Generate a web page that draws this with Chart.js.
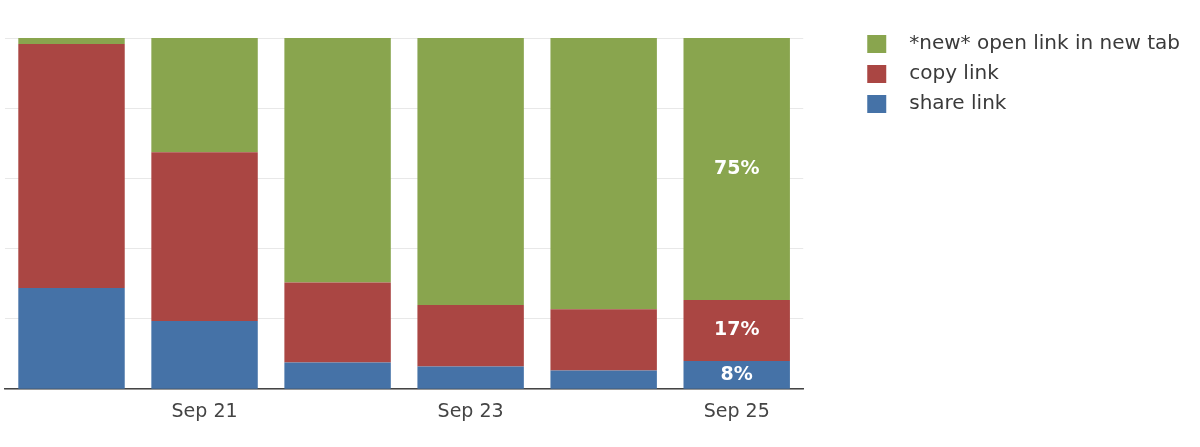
<!DOCTYPE html>
<html>
<head>
<meta charset="utf-8">
<script src="https://cdn.jsdelivr.net/npm/chart.js@4"></script>
<style>
    body { margin: 0; background: #fff; }
    canvas { display: block; }
</style>
</head>
<body>
<canvas id="myChart" width="1200" height="447"></canvas>
<script>
    const categories = ['Sep 20', 'Sep 21', 'Sep 22', 'Sep 23', 'Sep 24', 'Sep 25'];
    const shownTicks = ['Sep 21', 'Sep 23', 'Sep 25'];
    const labelledDay = 'Sep 25';

    // percent of clicks per day
    const shareLink = [28.8, 19.4, 7.6, 6.5, 5.3, 8.0];
    const copyLink = [69.5, 48.1, 22.8, 17.5, 17.5, 17.4];
    const openNewTab = [1.7, 32.5, 69.6, 76.0, 77.2, 74.6];

    const seriesNames = ['share link', 'copy link', '*new* open link in new tab'];
    const seriesColors = ['#4572A7', '#AA4643', '#89A54E'];

    // legend swatch: transparent space on the left, square on the right
    function swatch(color) {
        const c = document.createElement('canvas');
        c.width = 86;
        c.height = 18;
        const g = c.getContext('2d');
        g.fillStyle = color;
        g.fillRect(54, 0, 19, 18);
        return c;
    }

    const barLabels = {
        id: 'barLabels',
        afterDatasetsDraw(chart) {
            const ctx = chart.ctx;
            const idx = categories.indexOf(labelledDay);
            ctx.save();
            ctx.font = 'bold 19px "DejaVu Sans"';
            ctx.fillStyle = '#fff';
            ctx.textAlign = 'center';
            ctx.textBaseline = 'middle';
            chart.data.datasets.forEach((ds, i) => {
                const bar = chart.getDatasetMeta(i).data[idx];
                const {x, y, base} = bar.getProps(['x', 'y', 'base'], true);
                ctx.fillText(Math.round(ds.data[idx]) + '%', x, (y + base) / 2);
            });
            ctx.restore();
        }
    };

    const ctxShare = document.getElementById('myChart');

    new Chart(ctxShare, {
        type: 'bar',
        data: {
            labels: categories,
            datasets: [shareLink, copyLink, openNewTab].map((values, i) => ({
                label: seriesNames[i],
                data: values,
                backgroundColor: seriesColors[i],
                borderWidth: 0,
                barPercentage: 0.8,
                categoryPercentage: 1
            }))
        },
        options: {
            responsive: false,
            animation: false,
            layout: {
                padding: {left: 5, top: 24, right: 10, bottom: 13}
            },
            scales: {
                x: {
                    stacked: true,
                    z: 1,
                    grid: {display: false, drawTicks: false},
                    border: {display: true, color: '#444', width: 1.5},
                    ticks: {
                        autoSkip: false,
                        maxRotation: 0,
                        padding: 11,
                        color: '#444',
                        font: {family: '"DejaVu Sans"', size: 19},
                        callback: function (value) {
                            const label = this.getLabelForValue(value);
                            return shownTicks.includes(label) ? label : null;
                        }
                    }
                },
                y: {
                    stacked: true,
                    min: 0,
                    max: 104,
                    afterBuildTicks: scale => {
                        scale.ticks = scale.ticks.filter(t => t.value <= 100);
                    },
                    ticks: {display: false, stepSize: 20},
                    grid: {color: '#e8e8e8', lineWidth: 1, drawTicks: false},
                    border: {display: false}
                }
            },
            plugins: {
                tooltip: {enabled: false},
                legend: {
                    position: 'right',
                    align: 'start',
                    reverse: true,
                    maxWidth: 420,
                    labels: {
                        usePointStyle: true,
                        pointStyleWidth: 86,
                        padding: 10,
                        color: '#3a3a3a',
                        font: {family: '"DejaVu Sans"', size: 20},
                        generateLabels: chart => {
                            const items = Chart.defaults.plugins.legend.labels.generateLabels(chart);
                            return items.map(item => ({...item, pointStyle: swatch(item.fillStyle)}));
                        }
                    }
                }
            }
        },
        plugins: [barLabels]
    });
</script>
</body>
</html>
